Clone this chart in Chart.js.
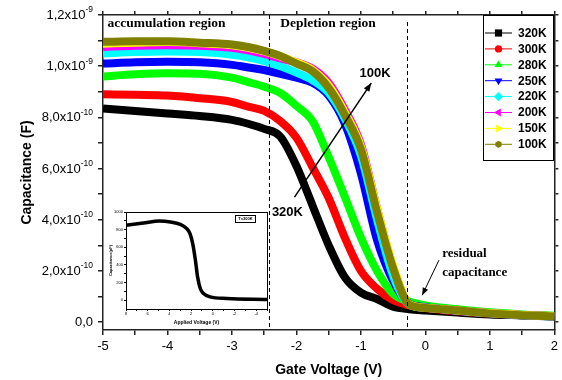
<!DOCTYPE html>
<html>
<head>
<meta charset="utf-8">
<script src="https://cdn.jsdelivr.net/npm/chart.js@4.4.0/dist/chart.umd.min.js"></script>
<style>
  html, body { margin: 0; padding: 0; background: #fff; }
  #wrap { position: relative; width: 562px; height: 380px; }
  #main { position: absolute; left: 0; top: 0; }
  #inset { position: absolute; left: 100px; top: 200px; }
</style>
</head>
<body>
<div id="wrap">
  <canvas id="main" width="562" height="380"></canvas>
  <canvas id="inset" width="172" height="128"></canvas>
</div>
<script>
// capacitance values are in units of 1e-10 F
const gateVoltage = [-5, -4.5, -4, -3.5, -3, -2.75, -2.5, -2.25, -2, -1.75, -1.5, -1.25, -1, -0.75, -0.5, -0.25, 0, 0.5, 1, 1.5, 2];
const temps = ['320K', '300K', '280K', '250K', '220K', '200K', '150K', '100K'];
const cap320 = [8.35, 8.25, 8.15, 8.05, 7.9, 7.75, 7.55, 7.25, 6.1, 4.55, 3.0, 1.75, 1.15, 0.9, 0.6, 0.5, 0.45, 0.37, 0.3, 0.26, 0.22];
const cap300 = [8.9, 8.88, 8.85, 8.75, 8.6, 8.42, 8.25, 7.85, 7.2, 6.05, 4.85, 3.3, 2.0, 1.3, 0.85, 0.65, 0.55, 0.42, 0.33, 0.27, 0.23];
const cap280 = [9.6, 9.68, 9.72, 9.7, 9.55, 9.38, 9.2, 8.95, 8.45, 7.85, 6.45, 4.9, 3.3, 2.0, 1.1, 0.8, 0.65, 0.5, 0.38, 0.3, 0.25];
const cap250 = [10.1, 10.15, 10.17, 10.15, 10.05, 9.95, 9.85, 9.7, 9.55, 9.35, 8.85, 7.75, 5.8, 3.2, 1.6, 0.72, 0.58, 0.44, 0.34, 0.27, 0.22];
const cap220 = [10.5, 10.55, 10.57, 10.55, 10.45, 10.35, 10.2, 10.0, 9.75, 9.45, 8.95, 7.95, 6.5, 4.0, 1.8, 0.68, 0.56, 0.44, 0.34, 0.27, 0.22];
const cap200 = [10.75, 10.8, 10.82, 10.8, 10.72, 10.62, 10.48, 10.3, 10.15, 9.9, 9.35, 8.3, 6.95, 4.45, 2.15, 0.7, 0.56, 0.45, 0.35, 0.28, 0.23];
const cap150 = [10.88, 10.92, 10.94, 10.9, 10.82, 10.72, 10.58, 10.38, 10.15, 9.85, 9.25, 8.2, 6.85, 4.45, 2.2, 0.7, 0.56, 0.45, 0.35, 0.28, 0.23];
const cap100 = [10.95, 10.97, 10.97, 10.92, 10.85, 10.75, 10.6, 10.4, 10.1, 9.8, 9.15, 8.1, 6.75, 4.3, 2.1, 0.68, 0.55, 0.45, 0.34, 0.27, 0.22];

const xMajorTicks = [-5, -4, -3, -2, -1, 0, 1, 2];
const xTickLabels = ['-5', '-4', '-3', '-2', '-1', '0', '1', '2'];
const xMinorTicks = [-4.5, -3.5, -2.5, -1.5, -0.5, 0.5, 1.5];
const yMajorTicks = [0, 2, 4, 6, 8, 10, 12];
const yTickBase = ['0,0', '2,0x10', '4,0x10', '6,0x10', '8,0x10', '1,0x10', '1,2x10'];
const yTickExp = ['', '-10', '-10', '-10', '-10', '-9', '-9'];
const yMinorTicks = [1, 3, 5, 7, 9, 11];

// inset: 300K curve in pF
const insetVoltage = [8, 6.4, 4.9, 3.9, 3, 2.4, 2.1, 1.85, 1.6, 1.4, 1.15, 0.85, 0.25, -1.3, -5];
const insetCap = [849, 875, 898, 887, 860, 811, 755, 642, 453, 264, 132, 75, 38, 19, 8];
const insetXTicks = [8, 6, 4, 2, 0, -2, -4];
const insetXLabels = ['8', '6', '4', '2', '0', '-2', '-4'];
const insetYTicks = [0, 200, 400, 600, 800, 1000];
const insetYLabels = ['0', '200', '400', '600', '800', '1000'];

const series = [cap320, cap300, cap280, cap250, cap220, cap200, cap150, cap100];
const colors = ['#000000', '#ff0000', '#00ff00', '#0000ff', '#00ffff', '#ff00ff', '#ffff00', '#808000'];
const markers = ['square', 'circle', 'triUp', 'triDown', 'diamond', 'triLeft', 'triRight', 'hexagon'];

const SANS = 'Arial, "Liberation Sans", sans-serif';
const SERIF = '"Times New Roman", "Liberation Serif", serif';
Chart.defaults.font.family = SANS;
Chart.defaults.color = '#000';

function withTicks(major, minor) {
    return scale => {
        scale.ticks = major.concat(minor).sort((a, b) => a - b).map(v => ({ value: v }));
    };
}
function labelFor(major, labels) {
    return value => {
        const i = major.indexOf(value);
        return i >= 0 ? labels[i] : '';
    };
}

function drawMarker(ctx, style, x, y, r) {
    ctx.beginPath();
    if (style === 'square') {
        ctx.rect(x - r, y - r, 2 * r, 2 * r);
    } else if (style === 'circle') {
        ctx.arc(x, y, r, 0, Math.PI * 2);
    } else if (style === 'diamond') {
        ctx.moveTo(x, y - r - 1); ctx.lineTo(x + r + 1, y); ctx.lineTo(x, y + r + 1); ctx.lineTo(x - r - 1, y);
    } else if (style === 'hexagon') {
        for (let k = 0; k < 6; k++) {
            const a = Math.PI / 6 + k * Math.PI / 3;
            ctx.lineTo(x + r * Math.cos(a), y + r * Math.sin(a));
        }
    } else {
        const rot = { triUp: -Math.PI / 2, triDown: Math.PI / 2, triLeft: Math.PI, triRight: 0 }[style];
        for (let k = 0; k < 3; k++) {
            const a = rot + k * 2 * Math.PI / 3;
            ctx.lineTo(x + (r + 1) * Math.cos(a), y + (r + 1) * Math.sin(a));
        }
    }
    ctx.closePath();
    ctx.fill();
}

function arrow(ctx, x1, y1, x2, y2, head) {
    ctx.beginPath();
    ctx.moveTo(x1, y1);
    ctx.lineTo(x2, y2);
    ctx.stroke();
    const a = Math.atan2(y2 - y1, x2 - x1);
    ctx.beginPath();
    ctx.moveTo(x2, y2);
    ctx.lineTo(x2 - head * Math.cos(a - 0.38), y2 - head * Math.sin(a - 0.38));
    ctx.lineTo(x2 - head * Math.cos(a + 0.38), y2 - head * Math.sin(a + 0.38));
    ctx.closePath();
    ctx.fill();
}

const whiteBg = {
    id: 'whiteBg',
    beforeDraw(chart) {
        const ctx = chart.ctx;
        ctx.save();
        ctx.fillStyle = '#fff';
        ctx.fillRect(0, 0, chart.width, chart.height);
        ctx.restore();
    }
};

// y tick labels with raised exponents
const yTickText = {
    id: 'yTickText',
    afterDraw(chart) {
        const ctx = chart.ctx;
        const ys = chart.scales.y;
        const right = ys.right - 5 - 5;
        ctx.save();
        ctx.fillStyle = '#000';
        ctx.textBaseline = 'middle';
        ctx.textAlign = 'left';
        yMajorTicks.forEach((v, i) => {
            const y = ys.getPixelForValue(v);
            ctx.font = '13px ' + SANS;
            const wb = ctx.measureText(yTickBase[i]).width;
            ctx.font = '8.5px ' + SANS;
            const we = yTickExp[i] ? ctx.measureText(yTickExp[i]).width : 0;
            const x0 = right - wb - we;
            ctx.font = '13px ' + SANS;
            ctx.fillText(yTickBase[i], x0, y + 0.5);
            if (yTickExp[i]) {
                ctx.font = '8.5px ' + SANS;
                ctx.fillText(yTickExp[i], x0 + wb, y - 5);
            }
        });
        ctx.restore();
    }
};

const annotations = {
    id: 'annotations',
    afterDatasetsDraw(chart) {
        const ctx = chart.ctx;
        const xs = chart.scales.x, ys = chart.scales.y;
        const px = v => xs.getPixelForValue(v);
        const py = v => ys.getPixelForValue(v);
        const area = chart.chartArea;
        ctx.save();
        // region separators
        ctx.strokeStyle = '#000';
        ctx.lineWidth = 1;
        ctx.setLineDash([4, 3]);
        ctx.beginPath();
        ctx.moveTo(Math.round(px(-2.43)) + 0.5, area.top);
        ctx.lineTo(Math.round(px(-2.43)) + 0.5, area.bottom);
        ctx.moveTo(Math.round(px(-0.28)) + 0.5, area.top + 7);
        ctx.lineTo(Math.round(px(-0.28)) + 0.5, area.bottom);
        ctx.stroke();
        ctx.setLineDash([]);

        ctx.fillStyle = '#000';
        ctx.font = 'bold 13.5px ' + SERIF;
        ctx.textBaseline = 'alphabetic';
        ctx.textAlign = 'left';
        ctx.fillText('accumulation region', px(-4.93), 27);
        ctx.fillText('Depletion region', px(-2.25), 27);
        ctx.font = 'bold 13px ' + SERIF;
        ctx.fillText('residual', px(0.26), 257);
        ctx.fillText('capacitance', px(0.26), 276);

        ctx.font = 'bold 13px ' + SANS;
        ctx.textAlign = 'center';
        ctx.textBaseline = 'middle';
        ctx.fillText('100K', px(-0.78), py(9.7));
        ctx.fillText('320K', px(-2.14), py(4.3));

        ctx.lineWidth = 1.5;
        ctx.strokeStyle = '#000';
        arrow(ctx, px(-2.03), py(4.88), px(-0.84), py(9.34), 9);
        ctx.lineWidth = 1;
        arrow(ctx, px(0.21), py(2.42), px(-0.05), py(1.05), 8);
        ctx.restore();
    }
};

const legendBox = {
    id: 'legendBox',
    afterDraw(chart) {
        const ctx = chart.ctx;
        const left = 483, right = 553, top = chart.chartArea.top, bottom = 160;
        ctx.save();
        ctx.fillStyle = '#fff';
        ctx.fillRect(left, top, right - left, bottom - top);
        ctx.strokeStyle = '#000';
        ctx.lineWidth = 1;
        ctx.strokeRect(left + 0.5, top + 0.5, right - left, bottom - top);
        chart.data.datasets.forEach((ds, i) => {
            const y = 33 + i * 15.9;
            ctx.strokeStyle = ds.borderColor;
            ctx.lineWidth = 1;
            ctx.beginPath();
            ctx.moveTo(485, y);
            ctx.lineTo(512, y);
            ctx.stroke();
            ctx.fillStyle = ds.borderColor;
            drawMarker(ctx, markers[i], 498.5, y, 3.6);
            ctx.fillStyle = '#000';
            ctx.font = 'bold 12px ' + SANS;
            ctx.textAlign = 'left';
            ctx.textBaseline = 'middle';
            ctx.fillText(ds.label, 518, y + 0.5);
        });
        ctx.restore();
    }
};

const axisColor = '#222';

new Chart(document.getElementById('main'), {
    type: 'line',
    data: {
        datasets: temps.map((t, i) => ({
            label: t,
            data: gateVoltage.map((v, j) => ({ x: v, y: series[i][j] })),
            borderColor: colors[i],
            backgroundColor: colors[i],
            borderWidth: 8,
            pointRadius: 0,
            cubicInterpolationMode: 'monotone',
            order: temps.length - 1 - i,
        })),
    },
    options: {
        responsive: false,
        animation: false,
        layout: { padding: 0 },
        plugins: {
            legend: { display: false },
            tooltip: { enabled: false },
        },
        scales: {
            x: {
                type: 'linear',
                position: 'bottom',
                min: -5,
                max: 2,
                afterBuildTicks: withTicks(xMajorTicks, xMinorTicks),
                afterFit: s => { s.height = 50; },
                ticks: {
                    autoSkip: false,
                    maxRotation: 0,
                    padding: 4,
                    font: { size: 13 },
                    callback: labelFor(xMajorTicks, xTickLabels),
                },
                grid: { drawOnChartArea: false, tickLength: 5, color: axisColor, lineWidth: 1.5 },
                border: { color: axisColor, width: 1.5 },
                title: {
                    display: true,
                    text: 'Gate Voltage (V)',
                    font: { size: 14, weight: 'bold' },
                    padding: { top: 0, bottom: 1 },
                },
            },
            y: {
                type: 'linear',
                position: 'left',
                min: -0.31,
                max: 12,
                afterBuildTicks: withTicks(yMajorTicks, yMinorTicks),
                afterFit: s => { s.width = 103; },
                ticks: {
                    autoSkip: false,
                    padding: 4,
                    font: { size: 13 },
                    callback: () => '',
                },
                grid: { drawOnChartArea: false, tickLength: 5, color: axisColor, lineWidth: 1.5 },
                border: { color: axisColor, width: 1.5 },
                title: {
                    display: true,
                    text: 'Capacitance (F)',
                    font: { size: 14, weight: 'bold' },
                    padding: { top: 19, bottom: 0 },
                },
            },
            xTop: {
                type: 'linear',
                position: 'top',
                min: -5,
                max: 2,
                afterBuildTicks: withTicks(xMajorTicks, xMinorTicks),
                afterFit: s => { s.height = 15; },
                ticks: { display: false },
                grid: { drawOnChartArea: false, tickLength: 4, color: axisColor, lineWidth: 1.5 },
                border: { color: axisColor, width: 1.5 },
            },
            yRight: {
                type: 'linear',
                position: 'right',
                min: -0.31,
                max: 12,
                afterBuildTicks: withTicks(yMajorTicks, yMinorTicks),
                afterFit: s => { s.width = 6; },
                ticks: { display: false },
                grid: { drawOnChartArea: false, tickLength: 4, color: axisColor, lineWidth: 1.5 },
                border: { color: axisColor, width: 1.5 },
            },
        },
    },
    plugins: [whiteBg, yTickText, annotations, legendBox],
});

const insetFrame = {
    id: 'insetFrame',
    afterDraw(chart) {
        const ctx = chart.ctx;
        const a = chart.chartArea;
        ctx.save();
        ctx.strokeStyle = '#000';
        ctx.lineWidth = 1;
        ctx.strokeRect(a.left + 0.5, a.top + 0.5, a.right - a.left, a.bottom - a.top);
        // T=300K label box
        const bx = a.right - 32, by = a.top + 3;
        ctx.strokeRect(bx + 0.5, by + 0.5, 20, 7);
        ctx.fillStyle = '#000';
        ctx.font = 'bold 4px ' + SANS;
        ctx.textAlign = 'center';
        ctx.textBaseline = 'middle';
        ctx.fillText('T=300K', bx + 10.5, by + 4);
        ctx.restore();
    }
};

new Chart(document.getElementById('inset'), {
    type: 'line',
    data: {
        datasets: [{
            label: '300K',
            data: insetVoltage.map((v, j) => ({ x: v, y: insetCap[j] })),
            borderColor: '#000',
            borderWidth: 3.5,
            pointRadius: 0,
            cubicInterpolationMode: 'monotone',
        }],
    },
    options: {
        responsive: false,
        animation: false,
        layout: { padding: { top: 12, right: 5 } },
        plugins: {
            legend: { display: false },
            tooltip: { enabled: false },
        },
        scales: {
            x: {
                type: 'linear',
                reverse: true,
                min: -5,
                max: 8,
                afterBuildTicks: withTicks(insetXTicks, [7, 5, 3, 1, -1, -3, -5]),
                afterFit: s => { s.height = 19; },
                ticks: {
                    autoSkip: false,
                    maxRotation: 0,
                    padding: 0,
                    font: { size: 4 },
                    callback: labelFor(insetXTicks, insetXLabels),
                },
                grid: { drawOnChartArea: false, tickLength: 2, color: '#000' },
                border: { color: '#000' },
                title: {
                    display: true,
                    text: 'Applied Voltage (V)',
                    font: { size: 5, weight: 'bold' },
                    padding: { top: 0, bottom: 2 },
                },
            },
            y: {
                type: 'linear',
                min: -100,
                max: 1000,
                afterBuildTicks: withTicks(insetYTicks, [100, 300, 500, 700, 900]),
                afterFit: s => { s.width = 26; },
                ticks: {
                    autoSkip: false,
                    padding: 1,
                    font: { size: 4 },
                    callback: labelFor(insetYTicks, insetYLabels),
                },
                grid: { drawOnChartArea: false, tickLength: 2, color: '#000' },
                border: { color: '#000' },
                title: {
                    display: true,
                    text: 'Capacitance(pF)',
                    font: { size: 4, weight: 'bold' },
                    padding: { top: 8, bottom: 0 },
                },
            },
        },
    },
    plugins: [insetFrame],
});
</script>
</body>
</html>
